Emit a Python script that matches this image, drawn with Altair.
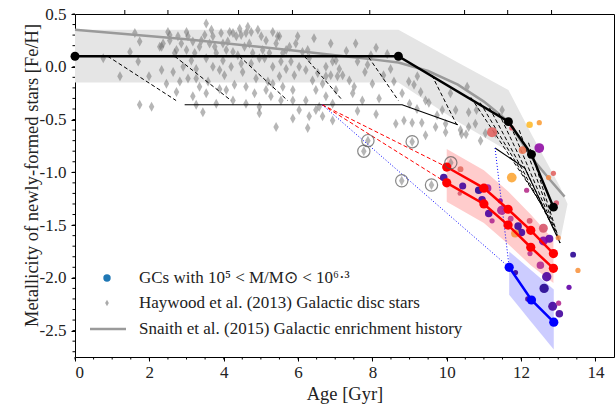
import altair as alt
import pandas as pd

# ---------------------------------------------------------------- data
# Haywood et al. (2013) Galactic disc stars
hay_age = [0.76, 1.21, 1.48, 1.61, 1.74, 1.70, 1.74, 2.06, 1.99, 2.28, 2.33, 2.37, 2.46, 2.50, 2.55,
           2.68, 2.64, 2.73, 2.77, 2.82, 2.91, 3.04, 3.00, 3.04, 3.13, 3.17, 3.26, 3.26, 3.35, 3.35,
           3.44, 3.49, 3.53, 3.53, 3.58, 3.67, 3.71, 3.76, 3.80, 3.89, 3.93, 3.98, 4.02, 4.07, 4.11,
           4.20, 4.25, 4.29, 4.38, 4.43, 4.47, 4.51, 4.60, 4.65, 4.69, 4.74, 4.87, 4.92, 4.96, 5.01,
           5.05, 5.10, 5.14, 5.19, 5.27, 5.32, 5.41, 5.45, 5.50, 5.54, 5.59, 5.59, 5.68, 5.77, 5.86,
           5.90, 5.99, 6.03, 6.12, 6.21, 6.26, 6.39, 6.43, 6.48, 6.57, 6.66, 6.75, 6.88, 6.93, 7.02,
           5.41, 5.86, 4.96, 6.88, 7.11, 7.02, 7.20, 7.38, 7.47, 7.55, 7.51, 7.73, 7.87, 7.96, 8.00,
           8.18, 8.49, 8.58, 8.63, 8.85, 8.98, 9.12, 9.21, 9.30, 9.43, 9.70, 9.74, 9.88, 9.97, 10.10,
           10.24, 10.55, 10.37, 10.59, 10.77, 11.49, 11.31, 10.91, 11.04, 7.88, 7.77, 9.07, 8.79, 9.59,
           10.11, 9.43, 9.97, 10.40, 10.52, 9.07, 9.33, 10.59, 10.80, 9.52,
           2.33, 2.55, 2.73, 2.86, 3.00, 3.17, 3.22, 3.40, 3.62, 3.71, 3.80, 3.89, 3.98, 4.16, 4.25,
           4.34, 4.47, 4.56, 4.60, 4.74, 4.78, 4.96, 5.14, 5.23, 5.32, 5.50, 5.68, 5.81, 5.94, 6.03,
           6.26, 6.30, 6.53, 6.66, 6.75, 6.93, 7.06, 3.26, 3.53, 4.07, 4.25, 4.60, 4.83, 5.32, 5.54,
           5.86, 6.21, 6.30, 6.48, 6.75, 6.93, 7.30, 7.60, 7.80, 8.10, 8.30, 8.40, 8.80, 9.00, 9.20,
           8.10, 7.60]
hay_feh = [0.08, -0.09, 0.14, 0.32, 0.24, 0.05, -0.36, -0.38, -0.09, 0.19, -0.03, 0.22, -0.16, 0.33, 0.25,
           0.13, -0.05, -0.24, 0.29, -0.14, 0.00, 0.29, 0.16, -0.11, 0.06, -0.28, -0.36, -0.02, 0.19, -0.19,
           -0.43, 0.30, 0.41, 0.08, -0.14, 0.35, 0.00, 0.19, -0.35, -0.21, 0.32, 0.06, -0.08, 0.16, 0.24,
           0.00, 0.32, -0.17, 0.11, 0.36, 0.30, -0.05, -0.19, 0.38, 0.22, 0.03, -0.11, 0.35, -0.38, 0.29,
           0.16, 0.08, -0.22, -0.14, -0.28, 0.00, 0.22, 0.29, -0.09, 0.05, 0.13, -0.19, -0.02, 0.19, -0.32,
           -0.08, 0.29, -0.41, 0.14, -0.03, -0.58, -0.13, 0.27, -0.22, -0.38, -0.47, 0.00, -0.08, -0.35, -0.22,
           -0.57, -0.49, -0.44, 0.22, -0.02, 0.06, -0.08, -0.13, -0.25, 0.22, -0.19, -0.32, 0.02, 0.11, -0.16,
           -0.30, -0.02, -0.14, -0.54, -0.51, -0.14, -0.17, -0.09, -0.24, -0.32, -0.57, -0.46, -0.41, -0.54, -0.25,
           -0.41, -0.19, -0.60, -0.57, -0.54, -0.41, -0.63, -0.70, -0.63, -0.70, -0.80, -0.71, -1.08, -1.12,
           -0.91, -0.65, -0.62, -0.64, -0.64, -0.53, -0.53, -0.43, -0.41, -0.34,
           0.19, 0.30, 0.16, 0.22, 0.33, 0.24, 0.13, 0.25, 0.22, 0.29, 0.13, -0.03, 0.22, 0.33, 0.14,
           0.29, 0.03, 0.19, 0.32, 0.33, 0.13, 0.08, 0.25, 0.13, 0.33, 0.29, 0.16, 0.05, 0.22, 0.00,
           0.16, 0.08, -0.06, -0.16, -0.09, 0.05, -0.09, -0.11, -0.25, -0.22, -0.32, -0.35, -0.25, -0.16, -0.32,
           -0.22, -0.32, -0.47, -0.41, -0.28, -0.51, 0.15, 0.05, -0.05, 0.18, -0.08, 0.12, -0.25, -0.35, -0.40,
           -0.45, -0.42]

# disc stars highlighted with an open circle
circ_age = [7.88, 7.77, 9.07, 8.79, 9.59, 10.11]
circ_feh = [-0.70, -0.80, -0.71, -1.08, -1.12, -0.91]

# Snaith et al. (2015) enrichment history
snaith_age = [0.0, 3.0, 6.0, 7.0, 8.0, 8.7, 9.5, 10.3, 11.0, 11.66, 12.28, 12.8, 13.17]
snaith_feh = [0.35, 0.26, 0.15, 0.11, 0.07, 0.04, -0.04, -0.17, -0.33, -0.52, -0.86, -1.08, -1.23]

# uncertainty envelope around the disc enrichment track
band_age = [0.0, 8.7, 10.3, 11.66, 12.28, 12.87, 13.05, 13.25]
band_hi = [0.35, 0.35, 0.04, -0.22, -0.64, -1.02, -1.14, -1.30]
band_lo = [-0.15, -0.15, -0.52, -0.80, -1.10, -1.50, -1.65, -1.30]

# main enrichment track (thick black)
track_age = [0.0, 8.7, 11.66, 12.28, 12.87]
track_feh = [0.10, 0.10, -0.52, -0.83, -1.33]

# secondary tracks (thin black)
thin1_age = [2.95, 8.8, 10.3]
thin1_feh = [-0.36, -0.36, -0.55]
thin2_age = [11.3, 12.1, 13.05]
thin2_feh = [-0.77, -0.96, -1.67]

# dashed connectors between the tracks: (start age, start feh, end age, end feh)
dash_a0 = [0.88, 2.68, 4.42, 6.17, 7.90, 9.60, 10.65, 10.90, 11.15, 11.40, 11.65, 11.95, 12.20]
dash_f0 = [0.10, 0.10, 0.10, 0.10, 0.09, -0.08, -0.29, -0.34, -0.39, -0.44, -0.50, -0.60, -0.72]
dash_a1 = [2.72, 4.20, 5.72, 7.20, 8.70, 10.27, 12.55, 12.70, 12.80, 12.90, 12.97, 13.02, 13.05]
dash_f1 = [-0.32, -0.32, -0.32, -0.32, -0.32, -0.55, -1.30, -1.40, -1.48, -1.55, -1.60, -1.64, -1.67]

# red model sequences
red_age = [10.0, 11.0, 11.65, 12.26, 12.87]
red_up = [-0.95, -1.15, -1.35, -1.55, -1.77]
red_lo = [-1.10, -1.30, -1.50, -1.71, -1.91]
red_band_hi = [-0.78, -0.98, -1.18, -1.40, -1.64]
red_band_lo = [-1.28, -1.48, -1.68, -1.88, -2.05]

# blue model sequence
blue_age = [11.68, 12.28, 12.88]
blue_feh = [-1.90, -2.21, -2.42]
blue_band_hi = [-1.75, -1.93, -2.11]
blue_band_lo = [-2.16, -2.42, -2.68]

# connectors from the thin track to the model sequences
red_conn_a0 = [6.65, 6.65]
red_conn_f0 = [-0.36, -0.36]
red_conn_a1 = [10.0, 10.0]
red_conn_f1 = [-0.95, -1.10]
blue_conn_a0 = [6.65, 11.3]
blue_conn_f0 = [-0.36, -0.77]
blue_conn_a1 = [11.68, 11.68]
blue_conn_f1 = [-1.90, -1.90]

# globular clusters: age, [Fe/H], log mass, colour value
gc_age = [11.22, 12.23, 12.49, 12.04, 12.49, 11.75, 12.15, 12.74, 12.87, 12.95, 10.37, 9.92, 10.43,
          10.86, 11.10, 10.35, 10.95, 11.13, 11.44, 11.48, 11.22, 11.72, 11.92, 12.01, 11.84, 12.23,
          12.60, 12.76, 12.60, 13.00, 12.24, 12.52, 12.69, 12.62, 13.40, 13.53, 13.29, 11.85, 12.18,
          12.85, 13.03, 13.01, 11.75]
gc_feh = [-0.62, -0.55, -0.53, -0.79, -0.77, -1.05, -1.17, -1.05, -1.01, -1.29, -0.97, -1.05, -1.13,
          -1.17, -1.15, -1.20, -1.26, -1.39, -1.27, -1.36, -1.46, -1.44, -1.51, -1.57, -1.58, -1.46,
          -1.53, -1.63, -1.65, -1.62, -1.77, -1.88, -1.99, -2.10, -1.78, -1.93, -2.09, -1.95, -2.20,
          -2.27, -2.34, -2.24, -0.58]
gc_logm = [6.2, 5.4, 5.2, 5.6, 6.1, 6.1, 5.2, 5.2, 5.2, 5.2, 5.3, 5.6, 5.5,
           5.6, 5.6, 5.1, 5.6, 5.6, 5.2, 6.0, 5.2, 5.3, 5.6, 5.6, 5.7, 5.3,
           5.9, 5.7, 5.9, 5.2, 5.2, 5.6, 6.0, 6.0, 5.3, 5.2, 5.2, 5.2, 5.2,
           5.9, 5.6, 5.2, 5.2]
gc_cval = [0.60, 0.85, 0.78, 0.66, 0.30, 0.80, 0.42, 0.72, 0.60, 0.55, 0.62, 0.08, 0.10,
           0.05, 0.35, 0.55, 0.10, 0.12, 0.30, 0.38, 0.40, 0.45, 0.08, 0.10, 0.75, 0.55,
           0.55, 0.15, 0.25, 0.72, 0.42, 0.40, 0.12, 0.04, 0.05, 0.75, 0.18, 0.08, 0.10,
           0.10, 0.10, 0.40, 0.58]

# axis ticks
y_major = [-2.5, -2.0, -1.5, -1.0, -0.5, 0.0, 0.5]
y_minor = [round(-2.7 + 0.1 * i, 1) for i in range(33)]
x_major = [0, 2, 4, 6, 8, 10, 12, 14]
x_minor = [0.5 * i for i in range(29)]
# redshift ticks along the top edge (lookback time, Gyr)
z_tick_age = [1.34, 2.50, 4.40, 5.85, 7.93, 10.48, 11.64, 12.82]

legend_labels = ["GCs with 10⁵ < M/M⊙ < 10⁶·³",
                 "Haywood et al. (2013) Galactic disc stars",
                 "Snaith et al. (2015) Galactic enrichment history"]

# ---------------------------------------------------------------- scales / axes
FONT = "Liberation Serif"
W, H = 539, 343
xs = alt.Scale(domain=[0, 14.5], nice=False, zero=False)
ys = alt.Scale(domain=[-2.75, 0.5], nice=False, zero=False)
x_axis = alt.Axis(values=x_major, title="Age [Gyr]", grid=False, tickSize=4, labelPadding=3,
                  labelFontSize=17, titleFontSize=18.5, titlePadding=4, domain=False,
                  labelExpr="format(datum.value, 'd')")
y_axis = alt.Axis(values=y_major, title="Metallicity of newly-formed stars [Fe/H]", grid=False,
                  tickSize=4, labelPadding=5, labelFontSize=17, titleFontSize=18.5, domain=False,
                  labelExpr="replace(format(datum.value, '.1f'), '\u2212', '-')",
                  titleAngle=270, titleAlign="center", titleBaseline="middle",
                  titleX=-44, titleY=161)


def X(f="age"):
    return alt.X(f, type="quantitative", scale=xs, axis=x_axis)


def Y(f="feh"):
    return alt.Y(f, type="quantitative", scale=ys, axis=y_axis)


def segs(a0, f0, a1, f1):
    rows = []
    for i in range(len(a0)):
        rows.append({"seg": i, "k": 0, "age": a0[i], "feh": f0[i]})
        rows.append({"seg": i, "k": 1, "age": a1[i], "feh": f1[i]})
    return pd.DataFrame(rows)


hay = pd.DataFrame({"age": hay_age, "feh": hay_feh})
circ = pd.DataFrame({"age": circ_age, "feh": circ_feh})
snaith = pd.DataFrame({"age": snaith_age, "feh": snaith_feh})
band = pd.DataFrame({"age": band_age, "hi": band_hi, "lo": band_lo})
track = pd.DataFrame({"age": track_age, "feh": track_feh})
thin = pd.concat([pd.DataFrame({"age": thin1_age, "feh": thin1_feh, "g": 0}),
                  pd.DataFrame({"age": thin2_age, "feh": thin2_feh, "g": 1})])
dash = segs(dash_a0, dash_f0, dash_a1, dash_f1)
rconn = segs(red_conn_a0, red_conn_f0, red_conn_a1, red_conn_f1)
bconn = segs(blue_conn_a0, blue_conn_f0, blue_conn_a1, blue_conn_f1)
red = pd.concat([pd.DataFrame({"age": red_age, "feh": red_up, "g": 0}),
                 pd.DataFrame({"age": red_age, "feh": red_lo, "g": 1})])
red_band = pd.DataFrame({"age": red_age, "hi": red_band_hi, "lo": red_band_lo})
blue = pd.DataFrame({"age": blue_age, "feh": blue_feh})
blue_band = pd.DataFrame({"age": blue_age, "hi": blue_band_hi, "lo": blue_band_lo})
gcs = pd.DataFrame({"age": gc_age, "feh": gc_feh, "logm": gc_logm, "c": gc_cval})

diamond = "M0,-1L0.55,0L0,1L-0.55,0Z"

layers = []
# envelopes
layers.append(alt.Chart(band).mark_area(color="#e5e5e5").encode(X(), Y("hi"), y2="lo"))
layers.append(alt.Chart(red_band).mark_area(color="#ffcccc").encode(X(), Y("hi"), y2="lo"))
layers.append(alt.Chart(blue_band).mark_area(color="#ccccff").encode(X(), Y("hi"), y2="lo"))
# disc stars
layers.append(alt.Chart(hay).mark_point(shape=diamond, filled=True, color="#6e6e6e",
                                        opacity=0.5, size=100).encode(X(), Y()))
# Snaith track
layers.append(alt.Chart(snaith).mark_line(color="#9a9a9a", strokeWidth=2.5).encode(X(), Y()))
# thin tracks and connectors
layers.append(alt.Chart(thin).mark_line(color="black", strokeWidth=1.1).encode(X(), Y(), detail="g:N"))
layers.append(alt.Chart(dash).mark_line(color="black", strokeWidth=1, strokeDash=[4, 2.5])
              .encode(X(), Y(), detail="seg:N", order="k:Q"))
layers.append(alt.Chart(rconn).mark_line(color="red", strokeWidth=1, strokeDash=[4, 2.5])
              .encode(X(), Y(), detail="seg:N", order="k:Q"))
layers.append(alt.Chart(bconn).mark_line(color="blue", strokeWidth=1, strokeDash=[1, 2])
              .encode(X(), Y(), detail="seg:N", order="k:Q"))
# globular clusters
layers.append(alt.Chart(gcs).mark_circle(opacity=0.9).encode(
    X(), Y(),
    color=alt.Color("c:Q", scale=alt.Scale(scheme="plasma", domain=[0, 1]), legend=None),
    size=alt.Size("logm:Q", scale=alt.Scale(domain=[5.0, 6.3], range=[12, 110]), legend=None)))
# model sequences
layers.append(alt.Chart(red).mark_line(color="red", strokeWidth=2.5).encode(X(), Y(), detail="g:N"))
layers.append(alt.Chart(red).mark_circle(color="red", size=85, opacity=1).encode(X(), Y()))
layers.append(alt.Chart(blue).mark_line(color="blue", strokeWidth=2.5).encode(X(), Y()))
layers.append(alt.Chart(blue).mark_circle(color="blue", size=85, opacity=1).encode(X(), Y()))
layers.append(alt.Chart(track).mark_line(color="black", strokeWidth=2.5).encode(X(), Y()))
layers.append(alt.Chart(track).mark_circle(color="black", size=80, opacity=1).encode(X(), Y()))
# highlighted disc stars
layers.append(alt.Chart(circ).mark_point(shape="circle", filled=False, color="#555555",
                                         strokeWidth=1.2, size=150).encode(X(), Y()))

# minor / redshift ticks
layers.append(alt.Chart(pd.DataFrame({"age": x_minor})).mark_rule(color="black", strokeWidth=1)
              .encode(X(), y=alt.value(H), y2=alt.value(H + 2.5)))
layers.append(alt.Chart(pd.DataFrame({"feh": y_minor})).mark_rule(color="black", strokeWidth=1)
              .encode(Y(), x=alt.value(0), x2=alt.value(-2.5)))
layers.append(alt.Chart(pd.DataFrame({"age": z_tick_age})).mark_rule(color="black", strokeWidth=1)
              .encode(X(), y=alt.value(0), y2=alt.value(-4)))

# legend
leg = pd.DataFrame({"label": legend_labels, "row": [0, 1, 2]})
ROW_Y = [264, 289, 315]
layers.append(alt.Chart(leg.iloc[[0]]).mark_circle(color="#1f77b4", size=55, opacity=1)
              .encode(x=alt.value(32), y=alt.value(ROW_Y[0])))
layers.append(alt.Chart(leg.iloc[[1]]).mark_point(shape=diamond, filled=True, color="#aaaaaa",
                                                  opacity=1, size=45)
              .encode(x=alt.value(32), y=alt.value(ROW_Y[1])))
layers.append(alt.Chart(leg.iloc[[2]]).mark_rule(color="#9a9a9a", strokeWidth=2.5)
              .encode(x=alt.value(15), x2=alt.value(51), y=alt.value(ROW_Y[2])))
for i in range(3):
    layers.append(alt.Chart(leg.iloc[[i]]).mark_text(align="left", baseline="middle", font=FONT,
                                                     fontSize=17, color="#222222")
                  .encode(x=alt.value(64), y=alt.value(ROW_Y[i]), text="label:N"))

chart = alt.layer(*layers).properties(
    width=W, height=H, autosize="none",
    padding={"left": 75, "top": 14, "right": 1, "bottom": 51},
).configure_view(stroke="black", strokeWidth=1).configure_axis(
    labelFont=FONT, titleFont=FONT, labelColor="#222222", titleColor="#222222",
    tickColor="black", titleFontWeight="normal")

chart.save("out.html", embed_options={"renderer": "svg", "actions": False})
